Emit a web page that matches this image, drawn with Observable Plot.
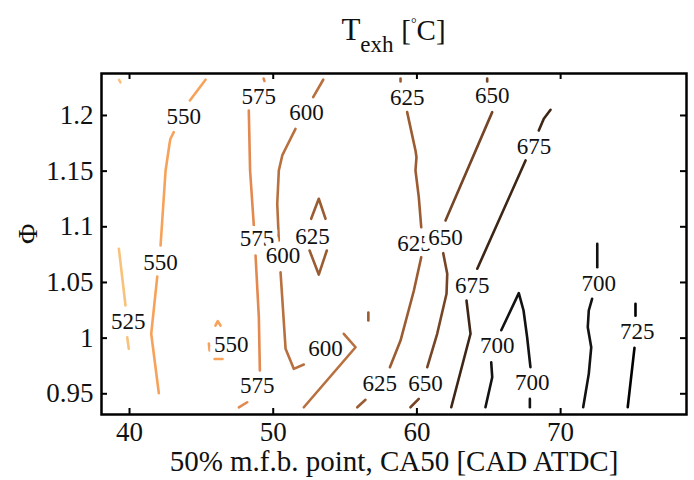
<!DOCTYPE html>
<html>
<head>
<meta charset="utf-8">
<script src="https://cdn.jsdelivr.net/npm/d3@7"></script>
<script src="https://cdn.jsdelivr.net/npm/@observablehq/plot@0.6"></script>
<style>
  html, body { margin: 0; padding: 0; background: #fff; }
  #wrap { position: relative; width: 694px; height: 480px; font-family: "Liberation Serif", serif; }
  #wrap svg { position: absolute; left: 0; top: 0; }
  #title { position: absolute; top: 14px; left: 101px; width: 585px; text-align: center; font-size: 31px; color: #111; line-height: 1; white-space: nowrap; }
  #title sub { font-size: 23px; vertical-align: -12px; }
  #title .br { font-size: 29px; }
  #title sup { font-size: 14px; vertical-align: 12px; }
</style>
</head>
<body>
<div id="wrap"><div id="title">T<sub>exh</sub> <span class="br">[<sup>°</sup>C]</span></div></div>
<script>
// ---- data: contour levels (°C) ----
const levels = [525, 550, 575, 600, 625, 650, 675, 700, 725];

// contour segments per level: [CA50, Φ] points
const seg525 = [
  [[39.27, 1.232], [39.37, 1.2297]],
  [[39.26, 1.0802], [39.72, 1.0293]],
  [[39.84, 1.0008], [39.95, 0.9904]]
];
const seg550 = [
  [[44.20, 1.2135], [45.29, 1.2321]],
  [[43.08, 1.185], [42.85, 1.1791], [42.80, 1.176], [42.51, 1.1506], [42.16, 1.0832]],
  [[41.93, 1.0553], [41.51, 1.0039], [42.04, 0.9505]],
  [[45.98, 1.0113], [46.14, 1.0152], [46.33, 1.0113]],
  [[45.52, 0.9952], [45.57, 0.9889]],
  [[45.92, 0.9812], [46.47, 0.9812]]
];
const seg575 = [
  [[49.33, 1.2332], [49.39, 1.231]],
  [[48.30, 1.2045], [48.39, 1.1506], [48.65, 1.1012]],
  [[48.77, 1.0742], [49.00, 1.0188], [49.07, 0.9709]],
  [[47.61, 0.9379], [48.19, 0.9424]]
];
const seg600 = [
  [[53.48, 1.2321], [52.78, 1.2164]],
  [[51.55, 1.188], [50.97, 1.173], [50.63, 1.1641], [50.39, 1.1506], [50.28, 1.1207], [50.39, 1.0877]],
  [[50.51, 1.0592], [50.86, 0.9904], [51.43, 0.9724], [52.13, 0.9763]],
  [[54.91, 1.0039], [55.73, 0.9918], [52.13, 0.9379]]
];
const seg625 = [
  [[52.64, 1.1072], [53.17, 1.1252], [53.64, 1.1072]],
  [[52.53, 1.0787], [53.17, 1.0571], [53.73, 1.0787]],
  [[56.62, 1.023], [56.62, 1.0158]],
  [[58.86, 1.2332], [58.86, 1.2305]],
  [[59.32, 1.203], [59.90, 1.1686], [59.97, 1.1625], [59.90, 1.1506], [60.13, 1.1266], [60.30, 1.0996]],
  [[60.30, 1.0727], [59.79, 1.0428], [58.86, 0.9978], [58.12, 0.9739]],
  [[55.85, 0.9379], [56.42, 0.9446]]
];
const seg650 = [
  [[64.89, 1.2332], [64.89, 1.2305]],
  [[65.24, 1.203], [61.99, 1.1057]],
  [[61.83, 1.0763], [62.11, 1.0578], [62.06, 1.0398], [61.41, 1.0039], [60.72, 0.9739]],
  [[59.55, 0.9379], [60.13, 0.9454]]
];
const seg675 = [
  [[69.30, 1.2051], [68.83, 1.197], [68.48, 1.1865]],
  [[67.56, 1.1596], [64.20, 1.0623]],
  [[63.45, 1.0338], [63.73, 1.0039], [62.39, 0.9379]]
];
const seg700 = [
  [[65.17, 0.9783], [65.24, 0.9649], [64.77, 0.9379]],
  [[65.87, 1.0071], [67.09, 1.0404], [67.42, 1.0248], [67.67, 1.0008], [67.90, 0.9739]],
  [[67.86, 0.9454], [67.86, 0.9379]],
  [[72.55, 1.0847], [72.55, 1.0637]],
  [[72.19, 1.0353], [71.96, 1.0248], [71.89, 1.0098], [72.13, 0.9918], [71.96, 0.9679], [71.57, 0.9379]]
];
const seg725 = [
  [[75.21, 1.0308], [75.21, 1.0202]],
  [[75.14, 0.9913], [74.67, 0.9379]]
];

// inline contour labels
const labelLevel = [525, 550, 550, 550, 575, 575, 575, 600, 600, 600, 625, 625, 625, 625, 650, 650, 650, 675, 675, 700, 700, 700, 725];
const labelX = [39.91, 43.78, 42.16, 47.08, 49.00, 48.87, 48.89, 52.32, 50.68, 53.64, 52.74, 59.32, 59.83, 57.42, 65.24, 61.99, 60.60, 68.14, 63.85, 65.59, 68.02, 72.66, 75.33];
const labelY = [1.0149, 1.1991, 1.0682, 0.9942, 1.2171, 1.0895, 0.9574, 1.2027, 1.0742, 0.9904, 1.0913, 1.2164, 1.085, 0.9589, 1.218, 1.0907, 0.9589, 1.1721, 1.0473, 0.9933, 0.9604, 1.0493, 1.0062];

// axes
const xTicks = [40, 50, 60, 70];
const yTicks = [0.95, 1, 1.05, 1.1, 1.15, 1.2];
const xLabel = "50% m.f.b. point, CA50 [CAD ATDC]";
const yLabel = "Φ";

// ---- build tables ----
const segs = {525: seg525, 550: seg550, 575: seg575, 600: seg600, 625: seg625, 650: seg650, 675: seg675, 700: seg700, 725: seg725};
const rows = [];
levels.forEach(L => segs[L].forEach((s, i) => s.forEach(([x, y]) => rows.push({x, y, level: L, id: `${L}-${i}`}))));
const labels = labelLevel.map((L, i) => ({level: L, x: labelX[i], y: labelY[i]}));

const W = 694, H = 480, mL = 101, mR = 8, mT = 73, mB = 66;
const iw = W - mL - mR, ih = H - mT - mB, tk = 6;
const serif = "Liberation Serif, serif";

const chart = Plot.plot({
  width: W, height: H,
  marginLeft: mL, marginRight: mR, marginTop: mT, marginBottom: mB,
  style: {fontFamily: serif, background: "transparent", color: "#111"},
  x: {domain: [38.05, 78.76]},
  y: {domain: [0.9314, 1.2377]},
  color: {type: "ordinal", domain: levels,
          range: ["#f9c27c", "#f7a25a", "#e3884f", "#b8703e", "#9b5c32", "#754526", "#3e2616", "#121212", "#000000"]},
  marks: [
    Plot.line(rows, {x: "x", y: "y", z: "id", stroke: "level", strokeWidth: 2.6, strokeLinecap: "round", strokeLinejoin: "round"}),
    Plot.text(labels, {x: "x", y: "y", text: d => String(d.level), fontSize: 23, fill: "#111", stroke: "white", strokeWidth: 10, paintOrder: "stroke"}),
    // inward ticks on all four sides
    Plot.tickX(xTicks, {x: d => d, insetTop: ih - tk, stroke: "black", strokeWidth: 2}),
    Plot.tickX(xTicks, {x: d => d, insetBottom: ih - tk, stroke: "black", strokeWidth: 2}),
    Plot.tickY(yTicks, {y: d => d, insetRight: iw - tk, stroke: "black", strokeWidth: 2}),
    Plot.tickY(yTicks, {y: d => d, insetLeft: iw - tk, stroke: "black", strokeWidth: 2}),
    Plot.axisX({ticks: xTicks, tickSize: 0, tickPadding: 7, fontSize: 27, label: null, tickFormat: d => String(d)}),
    Plot.axisY({ticks: yTicks, tickSize: 0, tickPadding: 8, fontSize: 27, label: null, tickFormat: d => String(+d.toFixed(2))}),
    Plot.text([xLabel], {frameAnchor: "bottom", dy: 56, fontSize: 29, fill: "#111"}),
    Plot.text([yLabel], {frameAnchor: "left", dx: -73, rotate: -90, fontSize: 28, fill: "#111"}),
    Plot.frame({stroke: "black", strokeWidth: 2.5})
  ]
});
document.getElementById("wrap").prepend(chart);
</script>
</body>
</html>
